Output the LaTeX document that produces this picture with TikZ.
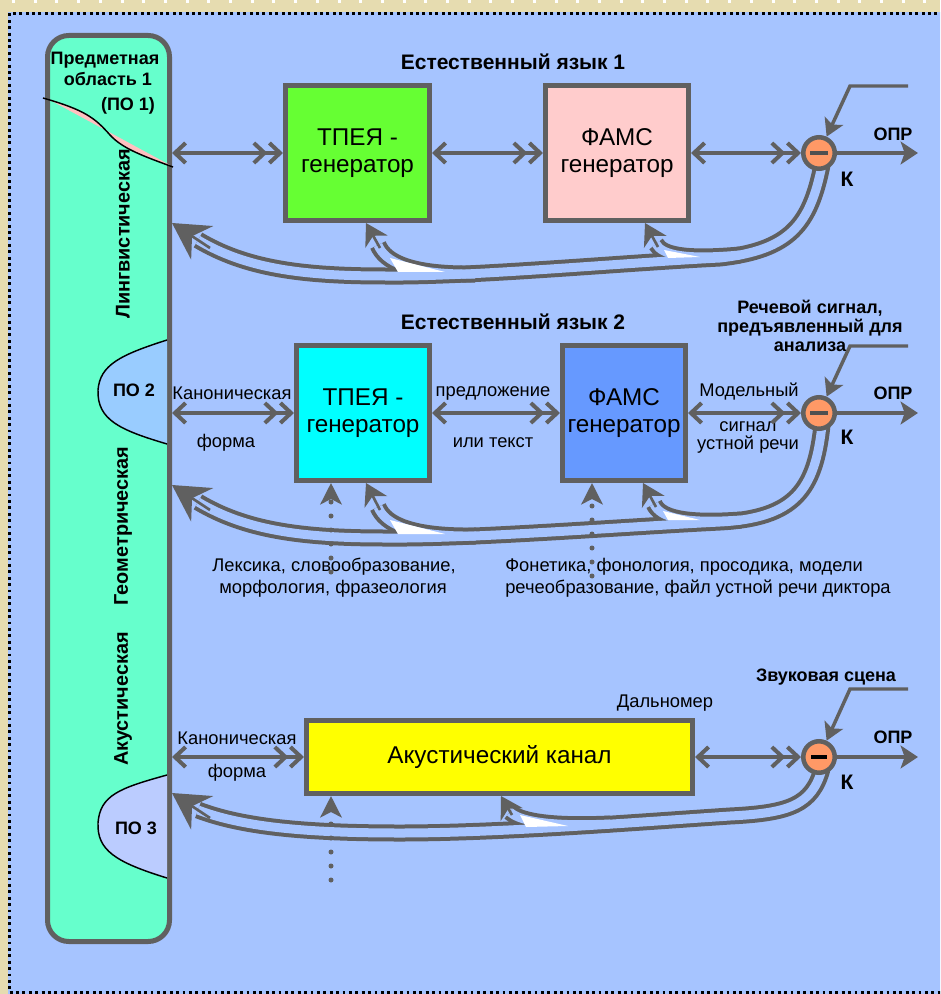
\documentclass[tikz,border=0pt]{standalone}
\usepackage{fontspec}
\setmainfont{Liberation Sans}
\usetikzlibrary{arrows.meta,calc}
\definecolor{bgblue}{HTML}{A6C4FF}
\definecolor{beige}{HTML}{E6DCB0}
\definecolor{lg}{HTML}{606060}
\definecolor{colfill}{HTML}{66FFCC}
\definecolor{potwo}{HTML}{99CCFF}
\definecolor{pothree}{HTML}{BBCCFF}
\definecolor{pinkpo}{HTML}{FFC0C0}
\definecolor{gfill}{HTML}{66FF33}
\definecolor{pfill}{HTML}{FFCCCC}
\definecolor{cfill}{HTML}{00FFFF}
\definecolor{bfill}{HTML}{6699FF}
\definecolor{yfill}{HTML}{FFFF00}
\definecolor{ofill}{HTML}{FF9966}
\definecolor{minusc}{HTML}{505050}
\begin{document}
\begin{tikzpicture}[x=0.75pt,y=-0.75pt,
  box/.style={draw=lg, line width=3.75pt, inner sep=0pt, align=center, font=\fontsize{18.2}{20.25}\selectfont},
  lab/.style={inner sep=0pt, align=center, font=\fontsize{13.75}{15}\selectfont},
  blab/.style={inner sep=0pt, align=center, font=\bfseries\fontsize{13.5}{14.5}\selectfont},
  ttl/.style={inner sep=0pt, font=\bfseries\fontsize{15.75}{17}\selectfont},
  vlab/.style={inner sep=0pt, rotate=90, font=\bfseries\fontsize{14.9}{16}\selectfont},
  cmp/.style={circle, draw=lg, line width=3.4pt, fill=ofill, minimum size=23.6pt, inner sep=0pt},
  harr/.style={draw=lg, line width=3pt, arrows={Straight Barb[length=8pt,width=15pt]-Straight Barb[length=8pt,width=15pt]Straight Barb[length=8pt,width=15pt]}},
  oarr/.style={color=lg, line width=3pt, -{Stealth[length=13pt,width=17pt,inset=3pt,fill=lg]}},
  iarr/.style={color=lg, line width=2.6pt, -{Stealth[length=13pt,width=15pt,inset=3pt,fill=lg]}},
  pipeo/.style={draw=lg, line width=12.75pt},
  pipei/.style={draw=bgblue, line width=6.75pt},
  bighead/.style={color=lg, line width=2pt, -{Stealth[length=27pt,width=30pt,inset=9pt,fill=lg]}},
  smhead/.style={color=lg, line width=2pt, -{Stealth[length=16pt,width=19pt,inset=5pt,fill=lg]}},
  dotarr/.style={color=lg, line width=3.75pt, line cap=round, dash pattern=on 0pt off 10.5pt, -{Stealth[length=16pt,width=16pt,inset=4pt,fill=lg]}},
  wedge/.style={fill=white, draw=none},
  kl/.style={inner sep=0pt, font=\bfseries\fontsize{15.75}{18}\selectfont},
  minusbar/.style={fill=minusc, minimum width=13.5pt, minimum height=2.6pt, inner sep=0pt}
]
\useasboundingbox (0,0) rectangle (940,994);
\clip (0,0) rectangle (940,994);
% background
\fill[beige] (0,0) rectangle (940,994);
\foreach \i in {0,...,43} \fill[white] ({12+21.7*\i},0) rectangle ++(3,3);
\fill[bgblue] (8,12) rectangle (960,1010);
\draw[black, line width=2.2pt, dash pattern=on 2.2pt off 2.6pt] (9.5,13.5) rectangle (960,992.5);

% left column
\node[draw=lg, line width=3.75pt, fill=colfill, rounded corners=16pt, minimum width=91.5pt, minimum height=679.5pt, inner sep=0pt] (col) at (108.5,488.5) {};
\fill[pinkpo] (43,98) .. controls (85,110) and (95,118) .. (110,135) .. controls (122,148) and (140,155) .. (173,167) -- (168,164) -- (48,99) -- cycle;
\draw[black, line width=1.1pt] (43,98) .. controls (85,110) and (95,118) .. (110,135) .. controls (122,148) and (140,155) .. (173,167);
\fill[potwo] (167,340) .. controls (120,355) and (100,365) .. (98,390) .. controls (97,420) and (120,430) .. (167,444) -- cycle;
\draw[black, line width=1.1pt] (167,340) .. controls (120,355) and (100,365) .. (98,390) .. controls (97,420) and (120,430) .. (167,444);
\fill[pothree] (167,775) .. controls (120,788) and (100,795) .. (98,823) .. controls (97,850) and (115,862) .. (167,878) -- cycle;
\draw[black, line width=1.1pt] (167,775) .. controls (120,788) and (100,795) .. (98,823) .. controls (97,850) and (115,862) .. (167,878);

\node[blab] (pa) at (105,60) {Предметная};
\node[blab] (pb) at (108,79) {область 1};
\node[blab] (pc) at (128,106) {(ПО 1)};
\node[blab] (po2) at (134,390) {ПО 2};
\node[blab] (po3) at (136,828) {ПО 3};
\node[vlab] (v1) at (123,234) {Лингвистическая};
\node[vlab] (v2) at (123,526) {Геометрическая};
\node[vlab] (v3) at (123,699) {Акустическая};

% boxes
\node[box, fill=gfill, minimum width=108pt, minimum height=101.25pt] (t1) at (357.5,153) {ТПЕЯ -\\генератор};
\node[box, fill=pfill, minimum width=107.25pt, minimum height=101.25pt] (f1) at (617,153) {ФАМС\\генератор};
\node[box, fill=cfill, minimum width=99.75pt, minimum height=101.25pt] (t2) at (363,413) {ТПЕЯ -\\генератор};
\node[box, fill=bfill, minimum width=92.25pt, minimum height=101.25pt] (f2) at (624,413) {ФАМС\\генератор};
\node[box, fill=yfill, minimum width=289.5pt, minimum height=54.75pt] (y3) at (499.5,757) {Акустический канал};

% titles and labels
\node[ttl] (ttl1) at (513,62) {Естественный язык 1};
\node[ttl] (ttl2) at (513,322) {Естественный язык 2};
\node[blab] (rs) at (810,326) {Речевой сигнал,\\предъявленный для\\анализа};
\node[blab] (zs) at (826,677) {Звуковая сцена};
\node[lab] (ka) at (232,393) {Каноническая};
\node[lab] (fa) at (226,443) {форма};
\node[lab] (pr) at (493,393) {предложение};
\node[lab] (it) at (493,443) {или текст};
\node[lab] (mo) at (749,392) {Модельный};
\node[lab, font=\fontsize{13.75}{13.5}\selectfont] (sg) at (748,437) {сигнал\\устной речи};
\node[lab] (kb) at (237,738) {Каноническая};
\node[lab] (fb) at (237,773) {форма};
\node[lab] (dm) at (665,703) {Дальномер};
\node[lab] (lx1) at (334,567) {Лексика, словообразование,};
\node[lab] (lx2) at (333,589) {морфология, фразеология};
\node[lab, anchor=west] (ph1) at (505,567) {Фонетика, фонология, просодика, модели};
\node[lab, anchor=west] (ph2) at (505,589) {речеобразование, файл устной речи диктора};

% comparator centres
\coordinate (kc1) at (819,153);
\coordinate (kc2) at (819,413);
\coordinate (kc3) at (819,757);

% feedback pipes
\def\rsMa{($(kc1)+(3,12)$) .. controls (810,225) and (790,250) .. (720,258) .. controls (620,263) and (470,277) .. (385,276) .. controls (300,276) and (245,268) .. (198,240)}
\def\rsBaa{(475,274) .. controls (410,275) and (385,262) .. (378,245)}
\def\rsBab{(740,255) .. controls (685,260) and (662,255) .. (656,244)}
\def\rsMb{($(kc2)+(3,12)$) .. controls (815,490) and (795,518) .. (720,522) .. controls (620,527) and (470,539) .. (385,538) .. controls (300,538) and (245,530) .. (198,502)}
\def\rsBba{(476,536) .. controls (410,537) and (385,524) .. (378,507)}
\def\rsBbb{(741,520) .. controls (685,524) and (660,518) .. (654,504)}
\def\rsMc{($(kc3)+(3,12)$) .. controls (812,805) and (790,813) .. (730,816) .. controls (640,822) and (500,833) .. (400,833) .. controls (300,833) and (240,826) .. (198,810)}
\def\rsBc{(610,824) .. controls (545,827) and (518,820) .. (510,812)}

\draw[pipeo] \rsMa; \draw[pipeo] \rsBaa; \draw[pipeo] \rsBab;
\draw[pipeo] \rsMb; \draw[pipeo] \rsBba; \draw[pipeo] \rsBbb;
\draw[pipeo] \rsMc; \draw[pipeo] \rsBc;
\draw[pipei] \rsMa; \draw[pipei] \rsBaa; \draw[pipei] \rsBab;
\draw[pipei] \rsMb; \draw[pipei] \rsBba; \draw[pipei] \rsBbb;
\draw[pipei] \rsMc; \draw[pipei] \rsBc;

\fill[wedge] (390,258) -- (445,272) -- (398,272) -- cycle;
\fill[wedge] (664,250) -- (700,257) -- (668,258) -- cycle;
\fill[wedge] (390,520) -- (445,534) -- (398,534) -- cycle;
\fill[wedge] (663,511) -- (700,520) -- (668,520) -- cycle;
\fill[wedge] (520,815) -- (568,826) -- (526,827) -- cycle;

\draw[bighead] (210,248) -- (col.east |- 0,223);
\draw[bighead] (210,510) -- (col.east |- 0,485);
\draw[bighead] (210,818) -- (col.east |- 0,793);
\draw[smhead] (380,248) -- (t1.south -| 366,0);
\draw[smhead] (658,247) -- (f1.south -| 645,0);
\draw[smhead] (380,510) -- (t2.south -| 366,0);
\draw[smhead] (656,507) -- (f2.south -| 643,0);
\draw[smhead] (512,815) -- (y3.south -| 501,0);

% dotted knowledge arrows
\coordinate (d1) at (331,572);
\coordinate (d2) at (592,576);
\coordinate (d3) at (331,880);
\draw[dotarr] (d1) -- (d1 |- t2.south);
\draw[dotarr] (d2) -- (d2 |- f2.south);
\draw[dotarr] (d3) -- (d3 |- y3.south);

% comparators
\node[cmp] (k1) at (kc1) {};
\node[cmp] (k2) at (kc2) {};
\node[cmp] (k3) at (kc3) {};
\node[minusbar] (m1) at (kc1) {};
\node[minusbar] (m2) at (kc2) {};
\node[minusbar, fill=black, minimum width=12pt, minimum height=3.6pt] (m3) at (kc3) {};
\node[kl] (kk1) at (847,179) {К};
\node[kl] (kk2) at (847,437) {К};
\node[kl] (kk3) at (847,782) {К};
\node[blab] (o1) at (893,134) {ОПР};
\node[blab] (o2) at (893,393) {ОПР};
\node[blab] (o3) at (893,737) {ОПР};

% horizontal arrows
\draw[harr] (col.east |- t1.west) -- (t1.west);
\draw[harr] (t1.east) -- (f1.west);
\draw[harr] (f1.east) -- (k1.west);
\draw[harr] (col.east |- t2.west) -- (t2.west);
\draw[harr] (t2.east) -- (f2.west);
\draw[harr] (f2.east) -- (k2.west);
\draw[harr] (col.east |- y3.west) -- (y3.west);
\draw[harr] (y3.east) -- (k3.west);

% outputs
\coordinate (out1) at (918,153);
\coordinate (out2) at (918,413);
\coordinate (out3) at (918,757);
\draw[oarr] (k1.east) -- (out1);
\draw[oarr] (k2.east) -- (out2);
\draw[oarr] (k3.east) -- (out3);

% inputs
\coordinate (ia1) at (908,86);  \coordinate (ib1) at (850,86);
\coordinate (ia2) at (908,346); \coordinate (ib2) at (850,346);
\coordinate (ia3) at (908,689); \coordinate (ib3) at (850,689);
\draw[iarr] (ia1) -- (ib1) -- (k1.65);
\draw[iarr] (ia2) -- (ib2) -- (k2.65);
\draw[iarr] (ia3) -- (ib3) -- (k3.65);
\end{tikzpicture}
\end{document}
